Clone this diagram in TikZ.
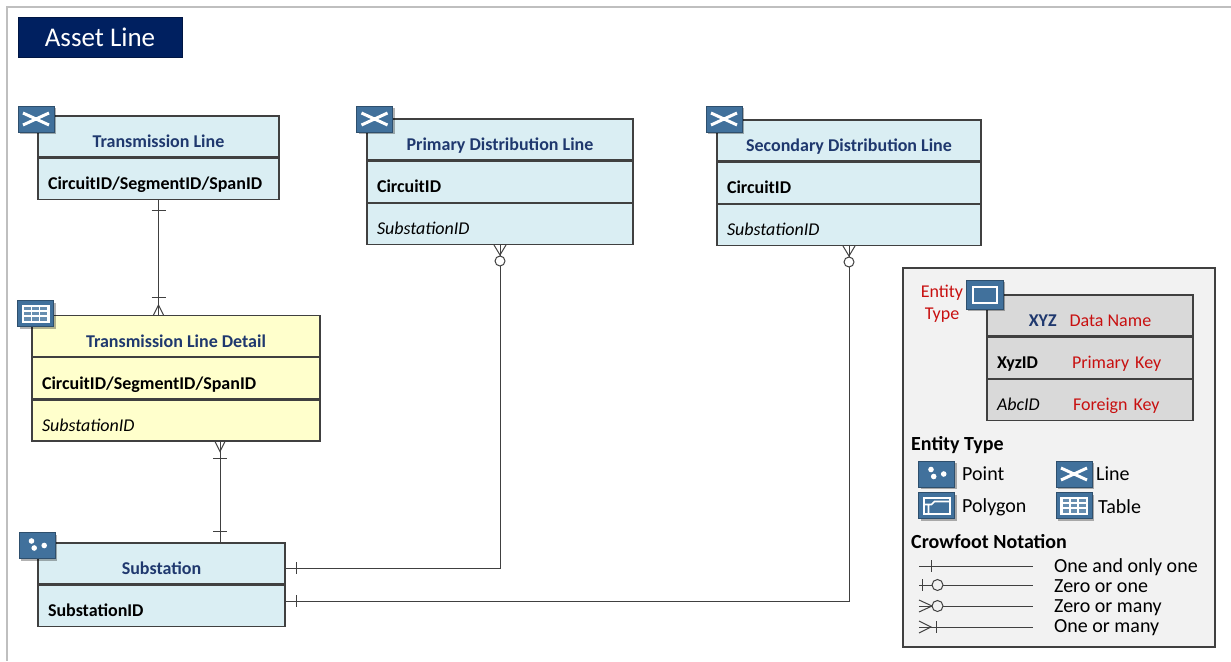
\documentclass[tikz,border=0pt]{standalone}
\usepackage{fontspec}
\setmainfont{Carlito}
\usetikzlibrary{positioning, shadows}

\definecolor{entblue}{RGB}{218,238,243}
\definecolor{entyellow}{RGB}{255,255,204}
\definecolor{hdrblue}{RGB}{31,56,110}
\definecolor{iconblue}{RGB}{65,113,156}
\definecolor{boxgray}{RGB}{64,64,64}
\definecolor{titlenavy}{RGB}{0,32,96}
\definecolor{legbg}{RGB}{242,242,242}
\definecolor{leggray}{RGB}{217,217,217}
\definecolor{legred}{RGB}{200,16,16}

\newcommand{\entfont}{\fontsize{18}{22}\selectfont}
\newcommand{\legfont}{\fontsize{20}{24}\selectfont}
\newcommand{\titlefont}{\fontsize{27}{32}\selectfont}

\begin{document}
\begin{tikzpicture}[x=1pt, y=-1pt,
    rowbox/.style={draw=boxgray, line width=1.2pt, inner sep=0pt, text height=24pt, text depth=2pt, minimum height=41pt},
    hdrrow/.style={rowbox, fill=entblue, font=\entfont\bfseries, text=hdrblue},
    pkrow/.style={rowbox, fill=entblue, font=\entfont\bfseries, inner xsep=10pt, align=left},
    fkrow/.style={rowbox, fill=entblue, font=\entfont\itshape, inner xsep=10pt, align=left},
    titlebox/.style={fill=titlenavy, draw=titlenavy!70!black, text=white, font=\titlefont, minimum width=164pt, minimum height=40pt, inner sep=0pt},
    iconbox/.style={draw=iconblue!70!black, fill=iconblue, line width=0.8pt, minimum width=36pt, minimum height=26pt, inner sep=0pt,
        drop shadow={shadow xshift=2pt, shadow yshift=-2pt, fill=black, opacity=0.3}},
    lineicon/.style={iconbox, path picture={
        \begin{scope}[shift={(path picture bounding box.center)}]
          \draw[white, line width=3pt] (-13,-6) -- (13,6) (-13,6) -- (13,-6);
        \end{scope}}},
    pointicon/.style={iconbox, path picture={
        \begin{scope}[shift={(path picture bounding box.center)}]
          \fill[white] (-5.5,-4.5) circle[radius=2.8pt] (-2.8,2.5) circle[radius=2.8pt] (7.2,0) circle[radius=2.8pt];
        \end{scope}}},
    polyicon/.style={iconbox, path picture={
        \begin{scope}[shift={(path picture bounding box.center)}]
          \draw[white, line width=2pt] (-13,-8) rectangle (13,8);
          \draw[white, line width=1.6pt] (-13,-1) -- (-5,-1) -- (-2,-4) -- (13,-4) (-8,-1) -- (-8,8);
        \end{scope}}},
    tableicon/.style={iconbox, path picture={
        \begin{scope}[shift={(path picture bounding box.center)}]
          \fill[white] (-14,-9) rectangle (14,9);
          \foreach \c in {-11.5,-3.3,4.9} \foreach \r in {-7,-1.7,3.6}
            \fill[iconblue!80] (\c,\r) rectangle ++(6.6,3.4);
        \end{scope}}},
    genicon/.style={iconbox, minimum width=37pt, minimum height=29pt, path picture={
        \begin{scope}[shift={(path picture bounding box.center)}]
          \draw[white, line width=2pt] (-12,-8) rectangle (12,8);
        \end{scope}}},
    conn/.style={draw=boxgray, line width=1pt},
    legendbox/.style={draw=boxgray, fill=legbg, line width=1.2pt, inner sep=0pt},
    legtitle/.style={font=\legfont\bfseries, inner sep=0pt},
    legtext/.style={font=\legfont, inner sep=0pt},
    legred/.style={font=\entfont, text=legred, inner sep=0pt}
  ]
  \useasboundingbox (0,0) rectangle (1231,661);

  % Frame
  \draw[gray!50, line width=2.5pt] (1231,7) -- (7,7) -- (7,661);

  % Title
  \node[titlebox] (title) at (100,37) {Asset Line};

  % Transmission Line
  \node[hdrrow, minimum width=241pt] (tl) at (158.5,136.5) {Transmission Line};
  \node[pkrow, text width=221pt, below=0pt of tl] (tl-key) {CircuitID/SegmentID/SpanID};
  \node[lineicon] (tl-icon) at (36,119) {};

  % Transmission Line Detail
  \node[hdrrow, fill=entyellow, minimum width=288pt] (tld) at (176,336) {Transmission Line Detail};
  \node[pkrow, fill=entyellow, text width=268pt, below=0pt of tld] (tld-key) {CircuitID/SegmentID/SpanID};
  \node[fkrow, fill=entyellow, text width=268pt, below=0pt of tld-key] (tld-fk) {SubstationID};
  \node[tableicon] (tld-icon) at (35.5,313.5) {};

  % Substation
  \node[hdrrow, minimum width=247pt] (sub) at (161.5,563.5) {Substation};
  \node[pkrow, text width=227pt, below=0pt of sub] (sub-key) {SubstationID};
  \node[pointicon] (sub-icon) at (37,545.5) {};

  % Primary Distribution Line
  \node[hdrrow, minimum width=266pt] (pdl) at (500,139.5) {Primary Distribution Line};
  \node[pkrow, text width=246pt, below=0pt of pdl] (pdl-key) {CircuitID};
  \node[fkrow, text width=246pt, below=0pt of pdl-key] (pdl-fk) {SubstationID};
  \node[lineicon] (pdl-icon) at (374.5,119) {};

  % Secondary Distribution Line
  \node[hdrrow, minimum width=264pt] (sdl) at (849,140.5) {Secondary Distribution Line};
  \node[pkrow, text width=244pt, below=0pt of sdl] (sdl-key) {CircuitID};
  \node[fkrow, text width=244pt, below=0pt of sdl-key] (sdl-fk) {SubstationID};
  \node[lineicon] (sdl-icon) at (724,119) {};

  % Transmission Line -- Transmission Line Detail
  \coordinate (tld-top) at (tl-key.south |- tld.north);
  \draw[conn] (tl-key.south) -- (tld-top);
  \draw[conn] ([yshift=-11pt]tl-key.south) ++(-7,0) -- ++(14,0);
  \draw[conn] ([yshift=17pt]tld-top) ++(-7,0) -- ++(14,0);
  \draw[conn] ([xshift=-5pt]tld-top) -- ([yshift=10pt]tld-top) -- ([xshift=5pt]tld-top);

  % Transmission Line Detail -- Substation
  \coordinate (tld-bot) at ([xshift=44pt]tld-fk.south);
  \coordinate (sub-top) at (tld-bot |- sub.north);
  \draw[conn] (tld-bot) -- (sub-top);
  \draw[conn] ([xshift=-5pt]tld-bot) -- ([yshift=-10pt]tld-bot) -- ([xshift=5pt]tld-bot);
  \draw[conn] ([yshift=-17pt]tld-bot) ++(-7,0) -- ++(14,0);
  \draw[conn] ([yshift=11pt]sub-top) ++(-7,0) -- ++(14,0);

  % Primary Distribution Line -- Substation
  \coordinate (sub-in1) at ([yshift=-4.5pt]sub.east);
  \draw[conn] (pdl-fk.south) |- (sub-in1);
  \draw[conn] ([xshift=-6pt]pdl-fk.south) -- ([yshift=-10pt]pdl-fk.south) -- ([xshift=6pt]pdl-fk.south);
  \draw[conn, fill=white] ([yshift=-16pt]pdl-fk.south) circle[radius=5pt];
  \draw[conn] ([xshift=11pt]sub-in1) ++(0,-6) -- ++(0,12);

  % Secondary Distribution Line -- Substation
  \coordinate (sub-in2) at ([yshift=4.5pt]sub-key.east);
  \draw[conn] (sdl-fk.south) |- (sub-in2);
  \draw[conn] ([xshift=-6pt]sdl-fk.south) -- ([yshift=-10pt]sdl-fk.south) -- ([xshift=6pt]sdl-fk.south);
  \draw[conn, fill=white] ([yshift=-16pt]sdl-fk.south) circle[radius=5pt];
  \draw[conn] ([xshift=11pt]sub-in2) ++(0,-6) -- ++(0,12);

  % Legend
  \node[legendbox, minimum width=312pt, minimum height=379pt] (legend) at (1059,457.5) {};

  % Legend entity
  \node[hdrrow, fill=leggray, minimum width=206pt] (leg-hdr) at (1090,315.5) {XYZ\hspace{13pt}\textcolor{legred}{\mdseries Data Name}};
  \node[pkrow, fill=leggray, text width=186pt, below=0pt of leg-hdr] (leg-key) {\makebox[75pt][l]{XyzID}\textcolor{legred}{\mdseries Primary Key}};
  \node[fkrow, fill=leggray, text width=186pt, below=0pt of leg-key] (leg-fk) {\makebox[76pt][l]{AbcID}\textcolor{legred}{\upshape Foreign Key}};
  \node[genicon] (leg-icon) at (984.5,294.5) {};
  \node[legred, align=center] (leg-type) at (942,304) {Entity\\Type};

  % Entity types
  \node[legtitle, anchor=base west] (leg-et) at (911,450) {Entity Type};
  \node[pointicon] (leg-point) at (936.5,474) {};
  \node[legtext, anchor=base west] (leg-point-txt) at (962,480) {Point};
  \node[lineicon] (leg-line) at (1074,474) {};
  \node[legtext, anchor=base west] (leg-line-txt) at (1096,480) {Line};
  \node[polyicon] (leg-poly) at (936.5,505.5) {};
  \node[legtext, anchor=base west] (leg-poly-txt) at (962,512) {Polygon};
  \node[tableicon] (leg-table) at (1074,505.5) {};
  \node[legtext, anchor=base west] (leg-table-txt) at (1098,513) {Table};

  % Crowfoot notation
  \node[legtitle, anchor=base west] (leg-cf) at (911,548) {Crowfoot Notation};
  \draw[conn] (919,566) -- (1033,566);
  \draw[conn] (931,560) -- (931,572);
  \draw[conn] (919,585) -- (1033,585);
  \draw[conn] (922,579) -- (922,591);
  \draw[conn, fill=legbg] (937.5,585) circle[radius=5.5pt];
  \draw[conn] (919,606) -- (1033,606);
  \draw[conn] (919,600) -- (932,606) -- (919,612);
  \draw[conn, fill=legbg] (937.5,606) circle[radius=5.5pt];
  \draw[conn] (919,627) -- (1033,627);
  \draw[conn] (919,621) -- (931,627) -- (919,633);
  \draw[conn] (936,621) -- (936,633);
  \node[legtext, anchor=base west] (leg-one) at (1054,572) {One and only one};
  \node[legtext, anchor=base west] (leg-zone) at (1054,592) {Zero or one};
  \node[legtext, anchor=base west] (leg-zmany) at (1054,612) {Zero or many};
  \node[legtext, anchor=base west] (leg-omany) at (1054,632) {One or many};
\end{tikzpicture}
\end{document}
